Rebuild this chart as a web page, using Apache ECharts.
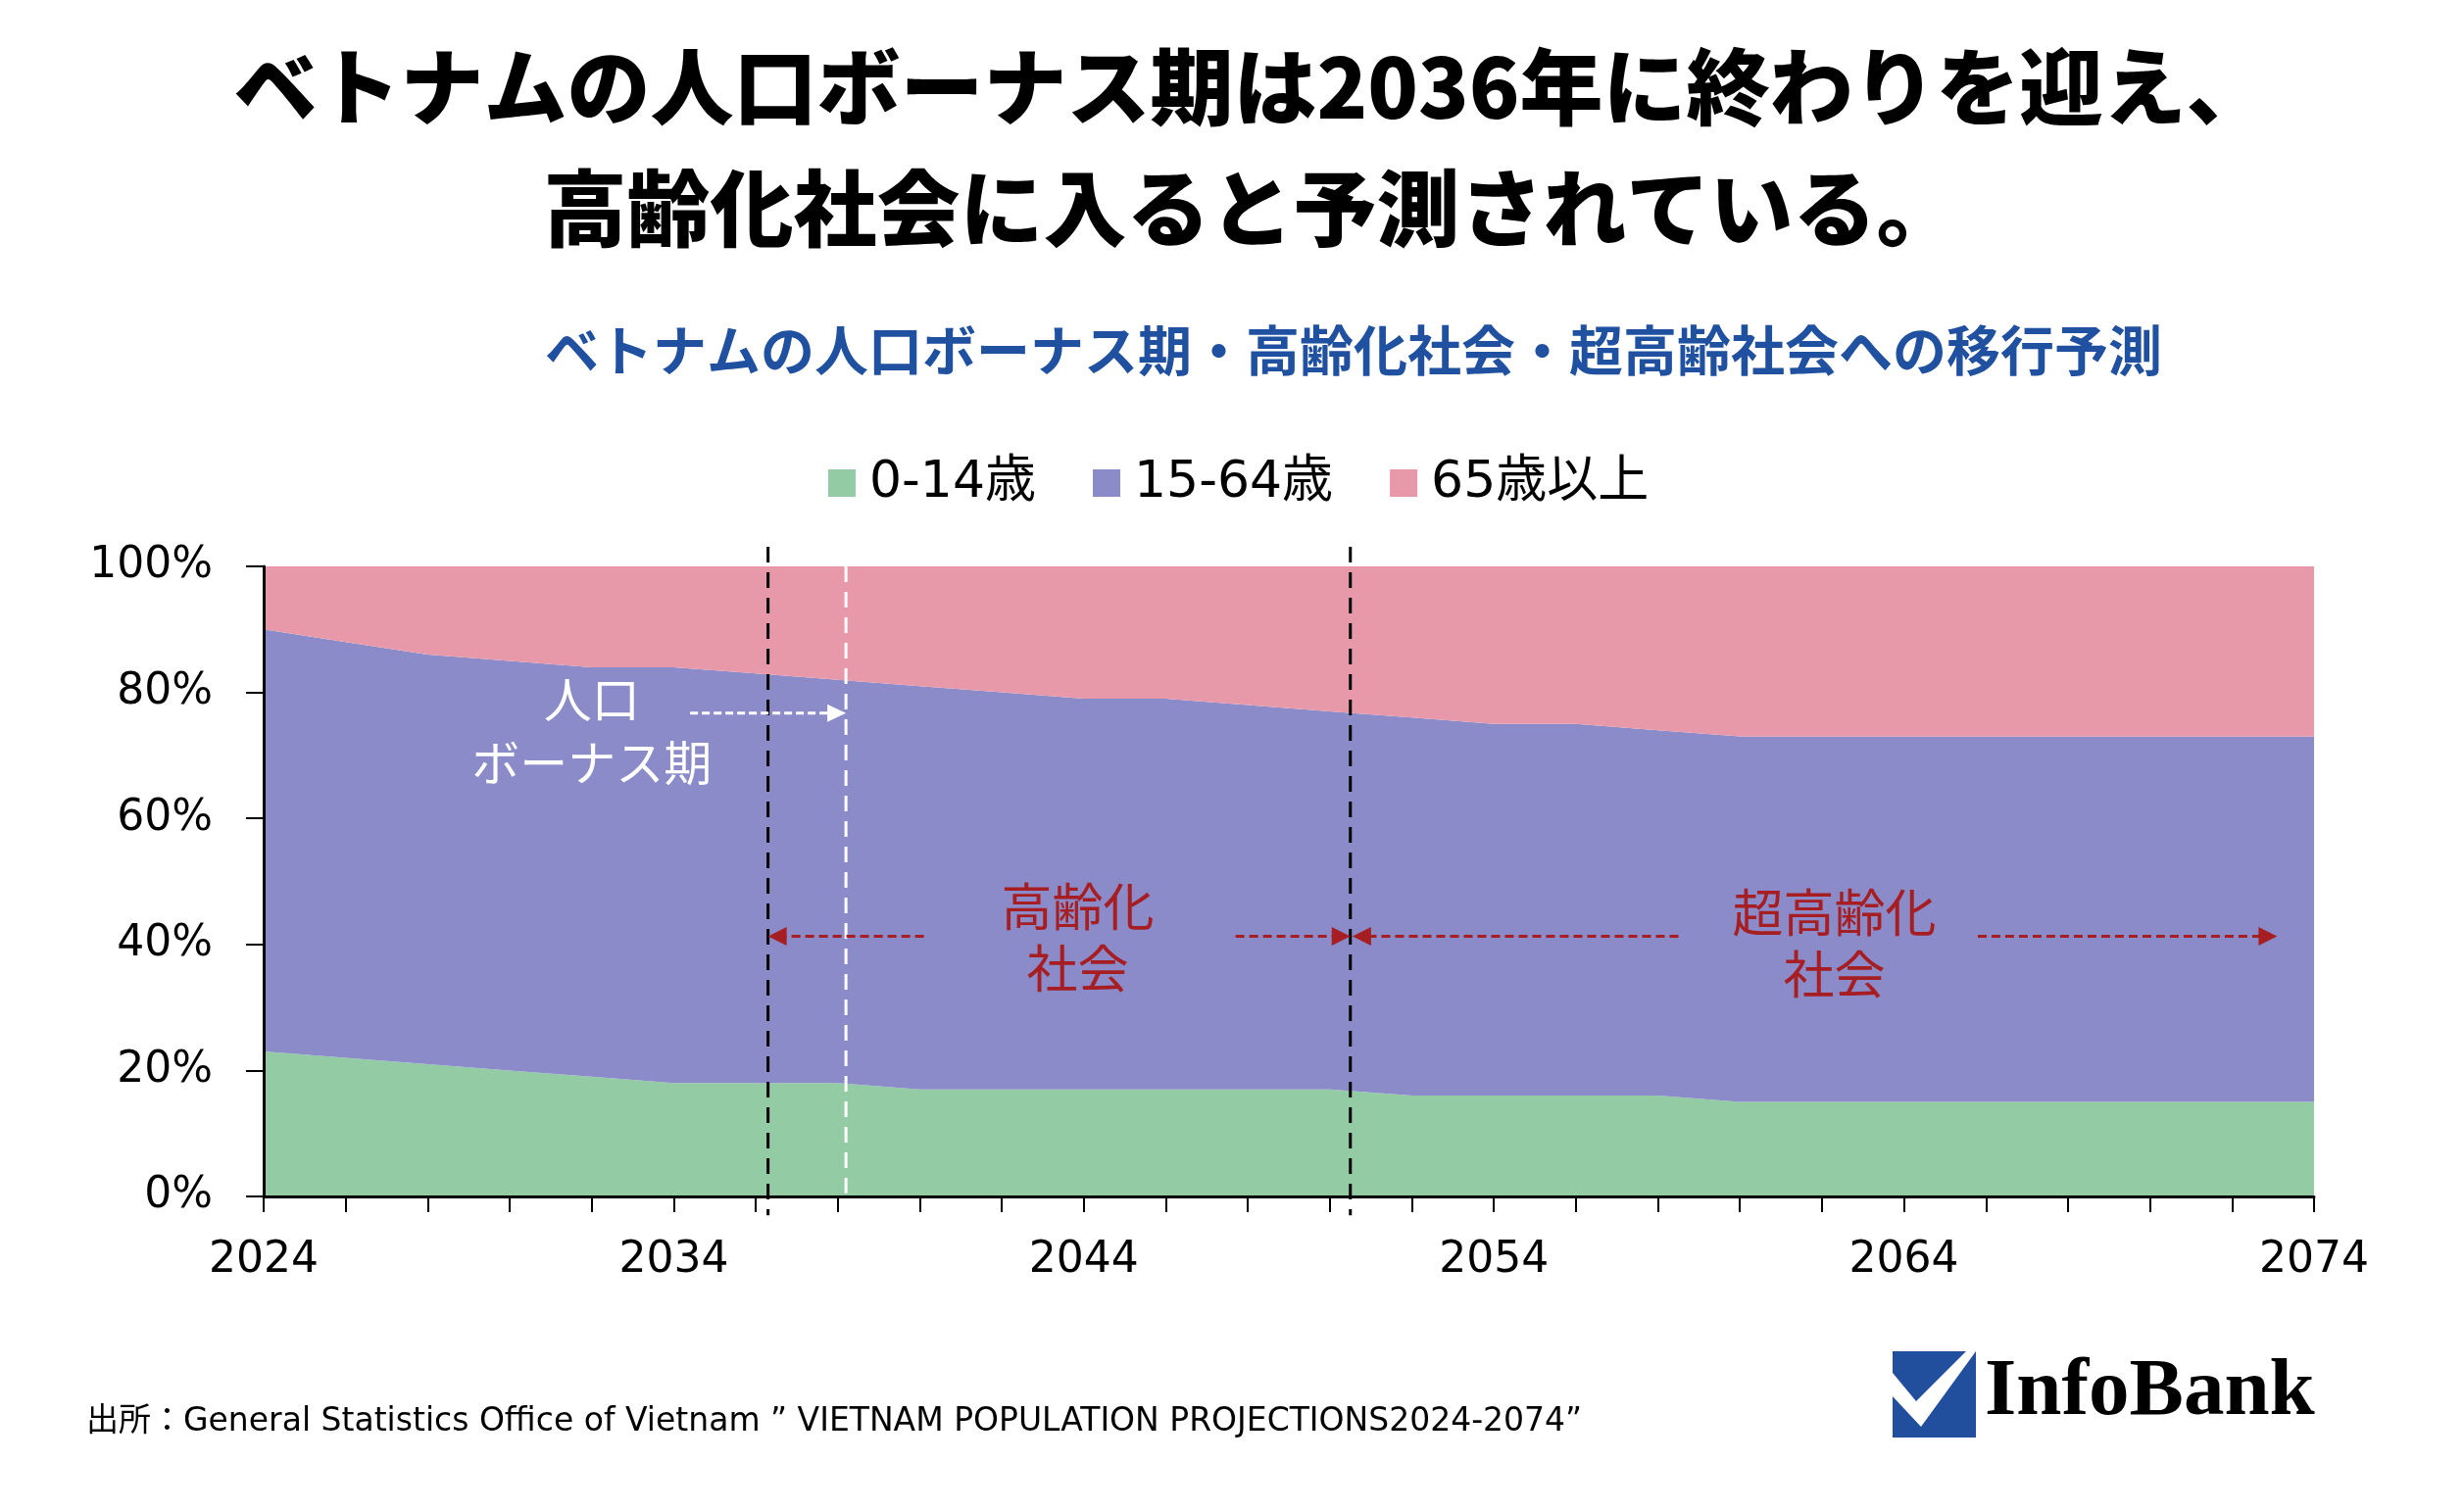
<!DOCTYPE html>
<html><head><meta charset="utf-8">
<script src="https://cdn.jsdelivr.net/npm/echarts@6/dist/echarts.min.js"></script>
<style>html,body{margin:0;padding:0;background:#fff;overflow:hidden}#c{width:2514px;height:1542px}</style>
</head><body><div id="c"></div>
<script>
// ---- data ----
const years = ['2024','2026','2028','2030','2032','2034','2036','2038','2040','2042','2044','2046','2048','2050','2052','2054','2056','2058','2060','2062','2064','2066','2068','2070','2072','2074'];
const seriesNames = ['0-14歳','15-64歳','65歳以上'];
const age0_14   = [23,22,21,20,19,18,18,18,17,17,17,17,17,17,16,16,16,16,15,15,15,15,15,15,15,15];
const age15_64  = [67,66,65,65,65,66,65,64,64,63,62,62,61,60,60,59,59,58,58,58,58,58,58,58,58,58];
const age65plus = [10,12,14,15,16,16,17,18,19,20,21,21,22,23,24,25,25,26,27,27,27,27,27,27,27,27];

const titleLines = ['ベトナムの人口ボーナス期は2036年に終わりを迎え、','高齢化社会に入ると予測されている。'];
const subtitle = 'ベトナムの人口ボーナス期・高齢化社会・超高齢社会への移行予測';
const source = '出所：General Statistics Office of Vietnam ” VIETNAM POPULATION PROJECTIONS2024-2074”';

// ---- chart ----
const chart = echarts.init(document.getElementById('c'), null, {renderer:'canvas'});
const JP = "'Noto Sans CJK JP'";
const LAT = "'DejaVu Sans', 'Noto Sans CJK JP'";
const colors = ['#93CBA5','#8A8BC8','#E799AA'];
const seriesValues = [age0_14, age15_64, age65plus];

const option = {
  animation:false,
  backgroundColor:'#fff',
  grid:{left:269,right:153,top:578,bottom:321,containLabel:false},
  legend:{
    data:seriesNames, icon:'rect', itemWidth:28, itemHeight:28, itemGap:58,
    left:840, top:462, selectedMode:false,
    textStyle:{fontSize:52, fontFamily:LAT, color:'#000', padding:[0,0,0,9]}
  },
  xAxis:{
    type:'category', data:years, boundaryGap:false, z:10,
    axisLine:{show:true,lineStyle:{color:'#000',width:3}},
    axisTick:{show:true,interval:0,length:16,lineStyle:{color:'#000',width:2}},
    splitLine:{show:false},
    axisLabel:{interval:4, fontSize:44, color:'#000', fontFamily:LAT, margin:44}
  },
  yAxis:{
    type:'value', min:0, max:100, interval:20, z:10,
    axisLine:{show:true,lineStyle:{color:'#000',width:3}},
    axisTick:{show:true,length:18,lineStyle:{color:'#000',width:2}},
    splitLine:{show:false},
    axisLabel:{formatter:'{value}%', fontSize:44, color:'#000', fontFamily:LAT, margin:52}
  },
  series: seriesNames.map((n,i)=>({
    name:n, type:'line', stack:'total', data:seriesValues[i],
    symbol:'none', showSymbol:false, lineStyle:{width:0,opacity:0},
    areaStyle:{color:colors[i],opacity:1}, itemStyle:{color:colors[i]},
    emphasis:{disabled:true}, z:2
  }))
};
chart.setOption(option);

// ---- annotations (positions in year / percent units) ----
const bonusEnd = 2036.3, bonusArrowEnd = 2038.2, superAged = 2050.5;
const firstYear = Number(years[0]), lastYear = Number(years[years.length-1]);
function P(year, v){
  const a = chart.convertToPixel({gridIndex:0}, [0, 0]);
  const b = chart.convertToPixel({gridIndex:0}, [years.length-1, 100]);
  const t = (year-firstYear)/(lastYear-firstYear);
  return [a[0] + t*(b[0]-a[0]), a[1] + (v/100)*(b[1]-a[1])];
}
const RED = '#A61E22';
const g = [];
function ln(x1,y1,x2,y2,color,dash,w){ g.push({type:'line',silent:true,z:100,shape:{x1,y1,x2,y2},style:{stroke:color,lineWidth:w,lineDash:dash}}); }
function tri(tx,ty,dir,len,half,color){ g.push({type:'polygon',silent:true,z:101,shape:{points:[[tx,ty],[tx-dir*len,ty-half],[tx-dir*len,ty+half]]},style:{fill:color}}); }
function txt(s,x,y,font,color,align){ g.push({type:'text',silent:true,z:102,x:x,y:y,style:{text:s,font:font,fill:color,textAlign:align||'center',textVerticalAlign:'middle'}}); }

// vertical dashed lines
[[bonusEnd,'#000',103.1,-3],[superAged,'#000',103.1,-3],[bonusArrowEnd,'#fff',100,0.5]].forEach(d=>{
  const a=P(d[0],d[2]), b=P(d[0],d[3]);
  ln(a[0],a[1],b[0],b[1],d[1],[16,10],3);
});
// white arrow
{ const a=P(2034.4,76.7), b=P(bonusArrowEnd,76.7);
  ln(a[0],a[1],b[0]-18,b[1],'#fff',[8,4],3); tri(b[0],b[1],1,19,9,'#fff'); }
// red arrows
const redArrows = [[2040.1,bonusEnd],[2047.7,superAged],[2058.5,superAged+0.05],[2065.8,2073.1]];
redArrows.forEach(r=>{
  const a=P(r[0],41.3), b=P(r[1],41.3); const dir = b[0]>a[0]?1:-1;
  ln(a[0],a[1],b[0]-dir*18,b[1],RED,[9,5],3); tri(b[0],b[1],dir,19,9.5,RED);
});
// annotation texts
{ let p=P(2032.0,79.0); txt('人口',p[0],p[1],"49px "+JP,'#fff');
  p=P(2032.0,68.9); txt('ボーナス期',p[0],p[1],"49px "+JP,'#fff');
  p=P(2043.85,46.0); txt('高齢化',p[0],p[1],"52px "+JP,RED);
  p=P(2043.85,36.2); txt('社会',p[0],p[1],"52px "+JP,RED);
  p=P(2062.3,45.1); txt('超高齢化',p[0],p[1],"52px "+JP,RED);
  p=P(2062.3,35.3); txt('社会',p[0],p[1],"52px "+JP,RED); }

// titles
txt(titleLines[0],1277,89,"900 85px "+JP,'#000');
txt(titleLines[1],1277,213,"900 85px "+JP,'#000');
txt(subtitle,1381,357,"bold 55px "+JP,'#2050A0');
// source
txt(source,88,1451,"33px "+LAT,'#000','left');
// logo
g.push({type:'rect',silent:true,z:100,shape:{x:1931,y:1379,width:85,height:88},style:{fill:'#214F9E'}});
g.push({type:'polygon',silent:true,z:101,shape:{points:[[1931,1401],[1955,1430],[2006,1379],[2016,1379],[1960,1456],[1931,1425]]},style:{fill:'#fff'}});
g.push({type:'text',silent:true,z:102,x:2025,y:1463,style:{text:'InfoBank',font:"bold 83px 'Liberation Serif'",fill:'#000',textAlign:'left',textVerticalAlign:'bottom'}});

chart.setOption({graphic:g});
</script></body></html>
